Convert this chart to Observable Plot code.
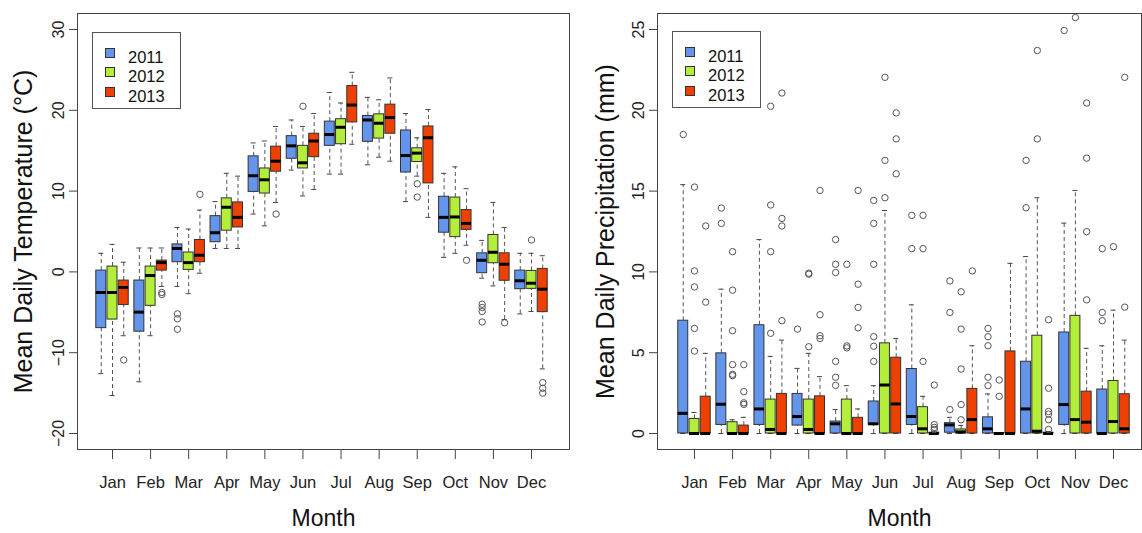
<!DOCTYPE html>
<html><head><meta charset="utf-8">
<script src="https://cdn.jsdelivr.net/npm/d3@7"></script>
<script src="https://cdn.jsdelivr.net/npm/@observablehq/plot@0.6"></script>
<style>
body{margin:0;background:#fff;font-family:"Liberation Sans",Arial,sans-serif;}
#wrap{position:relative;width:1142px;height:533px;display:flex;overflow:hidden;}
.legend{position:absolute;box-sizing:border-box;width:89px;height:77px;border:1px solid #555;background:#fff;}
.sw{position:absolute;box-sizing:border-box;width:10px;height:10px;border:1px solid #333;left:12px;}
.lt{position:absolute;left:35px;font-size:16.5px;line-height:20px;color:#111;}
</style></head><body><div id="wrap"></div>
<script>
const months = ["Jan","Feb","Mar","Apr","May","Jun","Jul","Aug","Sep","Oct","Nov","Dec"];
const years = ["2011","2012","2013"];
const colors = ["#6495ED","#B3EE3A","#EE4000"];
const tempTicks = [-20,-10,0,10,20,30];
const precipTicks = [0,5,10,15,20,25];

// Temperature: per month [lower whisker, Q1, median, Q3, upper whisker]
const temp2011 = [[-12.6,-6.96,-2.55,0.16,2.3],[-13.6,-7.4,-4.98,-1.07,2.96],[-1.8,1.2,2.9,3.4,5.5],[2.9,3.67,4.85,6.9,8.7],[7.16,9.9,11.9,14.3,15.96],[12.6,14.0,15.6,16.8,18.8],[12.1,15.6,17.0,18.6,22.2],[13.25,16.1,18.8,19.3,21.6],[8.7,12.3,14.4,17.5,19.6],[1.8,4.85,6.75,9.3,12.2],[-0.78,-0.16,1.44,2.3,3.9],[-5.2,-2.14,-1.1,0.16,2.3]];
const temp2012 = [[-15.3,-5.9,-2.55,0.66,3.4],[-7.9,-4.2,-0.45,0.66,2.96],[-2.7,0.25,1.15,2.4,5.3],[2.9,5.1,8.0,9.1,12.2],[5.7,9.7,11.4,12.8,16.2],[9.4,12.8,13.5,15.6,18.0],[12.1,15.8,17.9,18.9,20.9],[14.2,16.5,18.4,19.5,21.3],[11.85,13.6,14.7,15.3,16.6],[2.3,4.3,6.8,9.2,13.0],[-1.73,1.07,2.43,4.57,8.6],[-4.9,-2.1,-1.4,0.12,2.3]];
const temp2013 = [[-7.9,-4.1,-1.93,-1.07,1.2],[-1.8,0.16,1.15,1.4,2.96],[-0.16,1.2,2.06,3.95,7.65],[2.9,5.5,6.75,8.6,11.85],[8.6,12.4,13.7,15.5,18.0],[10.2,14.2,16.2,17.1,19.6],[15.8,18.5,20.65,23.0,24.7],[13.7,17.1,19.1,20.7,24.0],[6.75,10.95,16.6,18.0,20.1],[3.3,5.2,6.0,7.65,10.3],[-5.9,-1.1,0.95,2.3,5.5],[-12.0,-4.98,-2.14,0.37,2.0]];
// Temperature outliers: [month, value]
const tempOut2011 = [[3,-5.2],[3,-5.8],[3,-7.1],[11,-4.0],[11,-4.4],[11,-4.9],[11,-6.2]];
const tempOut2012 = [[6,20.5],[9,10.9],[9,9.26],[12,3.95]];
const tempOut2013 = [[1,-10.9],[2,-2.55],[2,-2.8],[3,9.6],[5,7.16],[10,1.44],[11,-6.3],[12,-13.7],[12,-14.4],[12,-15.0]];

// Precipitation: per month [lower whisker, Q1, median, Q3, upper whisker]
const precip2011 = [[0,0,1.25,6.98,15.4],[0,0.53,1.81,4.96,8.93],[0,0.53,1.52,6.7,12.0],[0,0.49,1.05,2.45,4.03],[0,0,0.6,0.74,1.48],[0,0.53,0.6,1.98,2.96],[0,0.53,1.05,3.99,7.96],[0,0.05,0.53,0.64,1.0],[0,0,0.29,1.0,2.45],[0,0,1.52,4.44,10.95],[0,0.53,1.79,6.25,13.02],[0,0,0,2.72,5.43]];
const precip2012 = [[0,0,0,0.9,1.3],[0,0,0,0.7,0.85],[0,0,0.25,2.1,4.77],[0,0,0.25,2.1,4.96],[0,0,0,2.1,2.96],[0,0,3.0,5.58,13.8],[0,0,0.29,1.63,2.3],[0,0,0.1,0.25,0.5],[0,0,0,0.02,0.05],[0,0,0.14,6.05,14.59],[0,0,0.86,7.28,15.04],[0,0,0.74,3.25,7.63]];
const precip2013 = [[0,0,0,2.28,4.96],[0,0,0,0.49,1.0],[0,0,0,2.45,5.78],[0,0,0,2.3,3.52],[0,0,0,0.97,1.52],[0,0,1.83,4.69,5.88],[0,0,0,0.05,0.15],[0,0,0.86,2.76,5.43],[0,0,0,5.08,10.53],[0,0,0,0.05,0.12],[0,0,0.7,2.59,5.27],[0,0,0.29,2.43,5.78]];
// Precipitation outliers: [month, value]
const precipOut2011 = [[1,18.5],[2,13.0],[2,13.95],[4,6.46],[5,2.98],[5,3.48],[5,4.46],[5,9.96],[5,10.47],[5,12.0],[6,4.46],[6,5.4],[6,5.99],[6,10.47],[6,13.0],[6,14.42],[7,11.44],[7,13.5],[8,1.48],[8,7.49],[8,9.44],[9,2.96],[9,3.48],[9,5.43],[9,5.99],[9,6.5],[10,13.97],[10,16.9],[11,24.94],[12,6.98],[12,7.49],[12,11.44]];
const precipOut2012 = [[1,5.1],[1,6.5],[1,9.07],[1,10.06],[1,15.25],[2,3.58],[2,3.66],[2,4.26],[2,6.36],[2,8.87],[2,11.25],[3,6.2],[3,11.25],[3,14.14],[3,20.25],[4,5.37],[4,9.86],[4,9.92],[5,5.3],[5,5.42],[5,10.47],[6,14.59],[6,16.9],[6,22.04],[7,4.46],[7,11.44],[7,13.5],[8,0.85],[8,1.79],[8,3.99],[8,6.46],[8,8.77],[9,2.3],[9,3.31],[10,18.23],[10,23.7],[11,25.74],[12,11.56]];
const precipOut2013 = [[1,8.13],[1,12.84],[2,1.8],[2,1.9],[2,2.59],[2,4.26],[3,6.98],[3,12.84],[3,13.31],[3,21.07],[4,5.88],[4,6.05],[4,7.35],[4,15.04],[5,6.54],[5,7.8],[5,9.24],[5,15.04],[6,16.07],[6,18.23],[6,19.84],[7,0.25],[7,0.38],[7,0.55],[7,3.0],[8,10.06],[10,0.25],[10,0.85],[10,1.2],[10,1.36],[10,2.8],[10,7.04],[11,8.27],[11,12.49],[11,17.04],[11,20.45],[12,7.82],[12,22.04]];

const offsets = [-0.295, 0, 0.295];
const halfBox = 0.131, halfStaple = 0.066;
const cx = d => d.m + offsets[d.yi];

function boxRows(list){
  return list.flatMap((arr, yi) => arr.map((s, mi) => ({year: years[yi], yi, m: mi+1, lo:s[0], q1:s[1], med:s[2], q3:s[3], hi:s[4]})));
}
function outRows(list){
  return list.flatMap((arr, yi) => arr.map(([m, v]) => ({year: years[yi], yi, m, v})));
}

function panel({rows, outs, ticks, yDomain, xDomain, marginLeft, marginRight, ylabel, ylabelDx}){
  return Plot.plot({
    width: 571, height: 533,
    marginLeft, marginRight, marginTop: 13, marginBottom: 84,
    x: {domain: xDomain},
    y: {domain: yDomain},
    color: {domain: years, range: colors},
    style: {fontFamily: "Liberation Sans, Arial, sans-serif", background: "#fff", color: "#222", fontSize: "16px", overflow: "visible"},
    marks: [
      Plot.axisY({ticks, tickSize: 8, tickRotate: -90, tickPadding: 6, fontSize: 16, label: null, stroke: "#444"}),
      Plot.axisX({ticks: d3.range(1, 13), tickFormat: i => months[i-1], tickSize: 10, tickPadding: 17, fontSize: 16.5, label: null, stroke: "#444"}),
      Plot.ruleX(rows, {x: cx, y1: "q3", y2: "hi", stroke: "#555", strokeDasharray: "4,3"}),
      Plot.ruleX(rows, {x: cx, y1: "lo", y2: "q1", stroke: "#555", strokeDasharray: "4,3"}),
      Plot.ruleY(rows, {y: "hi", x1: d => cx(d) - halfStaple, x2: d => cx(d) + halfStaple, stroke: "#444"}),
      Plot.ruleY(rows, {y: "lo", x1: d => cx(d) - halfStaple, x2: d => cx(d) + halfStaple, stroke: "#444"}),
      Plot.rect(rows, {x1: d => cx(d) - halfBox, x2: d => cx(d) + halfBox, y1: "q1", y2: "q3", fill: "year", stroke: "#333", strokeWidth: 1}),
      Plot.ruleY(rows, {y: "med", x1: d => cx(d) - halfBox, x2: d => cx(d) + halfBox, stroke: "#000", strokeWidth: 3}),
      Plot.dot(outs, {x: cx, y: "v", r: 3.2, stroke: "#555", strokeWidth: 1}),
      Plot.frame({stroke: "#444"}),
      Plot.text([ylabel], {frameAnchor: "left", textAnchor: "middle", lineAnchor: "middle", rotate: -90, dx: ylabelDx, fontSize: 25, fill: "#111"}),
      Plot.text(["Month"], {frameAnchor: "bottom", textAnchor: "middle", lineAnchor: "middle", dy: 69, fontSize: 23, fill: "#111"})
    ]
  });
}

const wrap = document.getElementById("wrap");
wrap.append(panel({
  rows: boxRows([temp2011, temp2012, temp2013]),
  outs: outRows([tempOut2011, tempOut2012, tempOut2013]),
  ticks: tempTicks, yDomain: [-21.98, 31.98], xDomain: [0.081, 12.998],
  marginLeft: 77, marginRight: 2, ylabel: "Mean Daily Temperature (°C)", ylabelDx: -54
}));
wrap.append(panel({
  rows: boxRows([precip2011, precip2012, precip2013]),
  outs: outRows([precipOut2011, precipOut2012, precipOut2013]),
  ticks: precipTicks, yDomain: [-0.99, 25.99], xDomain: [0.029, 12.735],
  marginLeft: 86, marginRight: 1, ylabel: "Mean Daily Precipitation (mm)", ylabelDx: -52
}));

function legend(left, top){
  const box = document.createElement("div");
  box.className = "legend";
  box.style.left = left + "px";
  box.style.top = top + "px";
  years.forEach((y, i) => {
    const sw = document.createElement("div");
    sw.className = "sw";
    sw.style.top = (15 + 19.4 * i) + "px";
    sw.style.background = colors[i];
    const t = document.createElement("div");
    t.className = "lt";
    t.style.top = (13.5 + 19.5 * i) + "px";
    t.textContent = y;
    box.append(sw, t);
  });
  wrap.append(box);
}
legend(92, 32);
legend(672, 31);
</script></body></html>
